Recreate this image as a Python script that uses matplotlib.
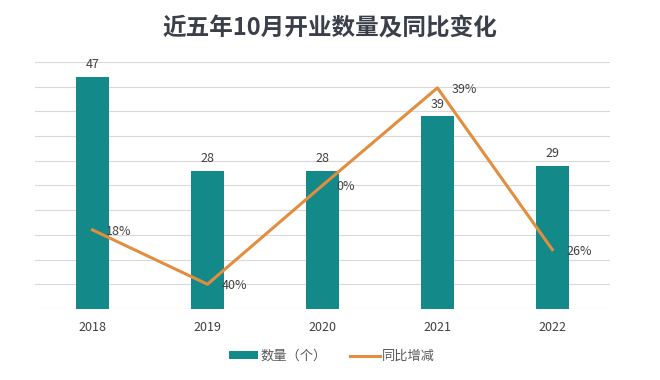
import matplotlib
matplotlib.use("Agg")
import matplotlib.pyplot as plt
from matplotlib.patches import Patch
from matplotlib.lines import Line2D

plt.rcParams['font.family'] = ['Noto Sans CJK SC', 'DejaVu Sans']

# data
years = ['2018', '2019', '2020', '2021', '2022']
counts = [47, 28, 28, 39, 29]
# YoY labels as printed on the chart
yoy_labels = ['18%', '40%', '0%', '39%', '26%']
# line heights on the (hidden) secondary scale 0-100, as drawn in the picture
yoy_level = [32, 10, 50, 89.5, 24]

bar_color = '#13898a'
line_color = '#e38d3f'
text_color = '#404040'

fig = plt.figure(figsize=(6.6, 3.8), dpi=100)
ax = fig.add_axes([0.053, 0.187, 0.871, 0.650])

x = range(len(years))
bars = ax.bar(x, counts, width=0.29, color=bar_color, zorder=2)
ax.set_xlim(-0.5, len(years) - 0.5)
ax.set_ylim(0, 50)
ax.set_yticks(range(0, 51, 5))
ax.yaxis.grid(True, color='#d9d9d9', linewidth=0.8)
ax.set_axisbelow(True)
ax.set_xticks(list(x))
ax.set_xticklabels(years)
for s in ax.spines.values():
    s.set_visible(False)

for rect, v in zip(bars, counts):
    ax.annotate(str(v), (rect.get_x() + rect.get_width() / 2, v),
                xytext=(0, 4), textcoords='offset points',
                ha='center', va='bottom', fontsize=9, color=text_color)

# secondary axis for the YoY line
ax2 = ax.twinx()
ax2.set_ylim(0, 100)
ax2.plot(list(x), yoy_level, color=line_color, linewidth=2.2, zorder=3)
ax2.set_yticks([])
for s in ax2.spines.values():
    s.set_visible(False)
for xi, yv, lab in zip(x, yoy_level, yoy_labels):
    ax2.annotate(lab, (xi, yv), xytext=(10, -1), textcoords='offset points',
                 ha='left', va='center', fontsize=9, color=text_color)

# twinx turns the left ticks back on, so hide them here
ax.tick_params(axis='y', left=False, right=False, labelleft=False)
ax.tick_params(axis='x', bottom=False, labelsize=9, labelcolor=text_color, pad=5)

fig.text(0.5, 0.925, '近五年10月开业数量及同比变化', ha='center', va='center',
         fontsize=17, fontweight='bold', color='#3b3f4a')

handles = [Patch(facecolor=bar_color, edgecolor='none'),
           Line2D([0], [0], color=line_color, linewidth=2.2)]
fig.legend(handles, ['数量（个）', '同比增减'], loc='center',
           bbox_to_anchor=(0.503, 0.062), ncol=2, frameon=False,
           fontsize=9.5, labelcolor='#595959', handlelength=2.2,
           handleheight=0.55, columnspacing=1.8, handletextpad=0.2)

fig.savefig('out.png', dpi=100, facecolor='white')
